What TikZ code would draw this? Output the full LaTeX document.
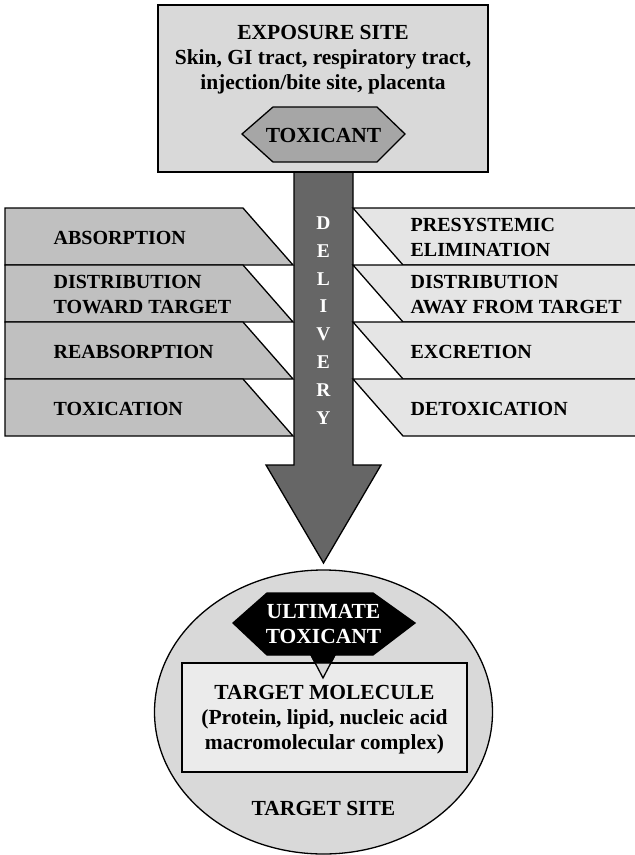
\documentclass[tikz,border=0pt]{standalone}
\usepackage{fontspec}
\setmainfont{Liberation Serif}
\usetikzlibrary{positioning}

\definecolor{sitegray}{HTML}{D9D9D9}
\definecolor{toxgray}{HTML}{A6A6A6}
\definecolor{arrowgray}{HTML}{666666}
\definecolor{leftgray}{HTML}{C0C0C0}
\definecolor{rightgray}{HTML}{E5E5E5}
\definecolor{molgray}{HTML}{EBEBEB}

\tikzset{
  barlabel/.style={font=\bfseries\fontsize{20}{25}\selectfont, align=left, anchor=west, inner sep=0pt},
  boxtext/.style={font=\bfseries\fontsize{21.5}{25}\selectfont, align=center, inner sep=0pt},
}

\begin{document}
\begin{tikzpicture}[x=1pt, y=-1pt, line width=1.3pt]
\useasboundingbox (0,0) rectangle (635,855);

% delivery arrow
\draw[fill=arrowgray] (294,150) -- (294,465) -- (266,465) -- (323.5,563) -- (381,465) -- (353,465) -- (353,150) -- cycle;

% exposure site
\draw[fill=sitegray] (158,5) rectangle (488,172);
\node[boxtext] (exposure) at (323,60) {EXPOSURE SITE\\Skin, GI tract, respiratory tract,\\injection/bite site, placenta};
\draw[fill=toxgray] (242,134) -- (273,107) -- (377,107) -- (405,134) -- (377,162) -- (273,162) -- cycle;
\node[boxtext] (toxicant) at (323.5,135) {TOXICANT};

% left bars
\foreach \i/\txt in {0/ABSORPTION, 1/{DISTRIBUTION\\TOWARD TARGET}, 2/REABSORPTION, 3/TOXICATION} {
  \pgfmathsetmacro\t{208+57*\i}
  \pgfmathsetmacro\b{265+57*\i}
  \draw[fill=leftgray] (5,\t) -- (243,\t) -- (293,\b) -- (5,\b) -- cycle;
  \node[barlabel] (left\i) at (53,{(\t+\b)/2+1}) {\txt};
}

% right bars
\foreach \i/\txt in {0/{PRESYSTEMIC\\ELIMINATION}, 1/{DISTRIBUTION\\AWAY FROM TARGET}, 2/EXCRETION, 3/DETOXICATION} {
  \pgfmathsetmacro\t{208+57*\i}
  \pgfmathsetmacro\b{265+57*\i}
  \draw[fill=rightgray] (353,\t) -- (645,\t) -- (645,\b) -- (403,\b) -- cycle;
  \node[barlabel] (right\i) at (410,{(\t+\b)/2+1}) {\txt};
}

\node[boxtext, text=white, font=\bfseries\fontsize{19.5}{27.9}\selectfont] (delivery) at (323.5,320.5) {D\\E\\L\\I\\V\\E\\R\\Y};

% target site
\draw[fill=sitegray] (323.5,712) ellipse [x radius=169, y radius=142];
\draw[fill=molgray] (182,663) rectangle (467,772);
\node[boxtext] (molecule) at (324.5,720) {TARGET MOLECULE\\(Protein, lipid, nucleic acid\\macromolecular complex)};
\node[boxtext] (site) at (323.5,808.5) {TARGET SITE};

% ultimate toxicant callout
\draw[fill=sitegray] (311,655) -- (323,678) -- (335,655) -- cycle;
\draw[fill=black] (233,623) -- (267,593) -- (373,593) -- (415,623) -- (373,655) -- (335,655) -- (330.8,663) -- (315.2,663) -- (311,655) -- (267,655) -- cycle;
\node[boxtext, text=white] (ultimate) at (323.5,624) {ULTIMATE\\TOXICANT};
\end{tikzpicture}
\end{document}
